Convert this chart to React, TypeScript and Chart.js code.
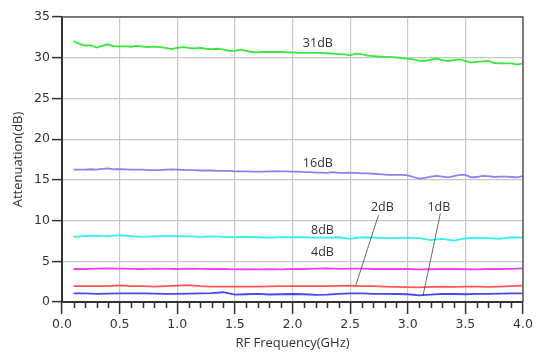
import { useEffect, useRef } from "react";
import { Chart, registerables } from "chart.js";

Chart.register(...registerables);

// Frequency grid (GHz)
const freqFine = [
  0.1, 0.15, 0.2, 0.25, 0.3, 0.35, 0.4, 0.45, 0.5, 0.55, 0.6, 0.65, 0.7, 0.75, 0.8, 0.85, 0.9, 0.95,
  1.0, 1.05, 1.1, 1.15, 1.2, 1.25, 1.3, 1.35, 1.4, 1.45, 1.5, 1.55, 1.6, 1.65, 1.7, 1.75, 1.8, 1.85, 1.9, 1.95,
  2.0, 2.05, 2.1, 2.15, 2.2, 2.25, 2.3, 2.35, 2.4, 2.45, 2.5, 2.55, 2.6, 2.65, 2.7, 2.75, 2.8, 2.85, 2.9, 2.95,
  3.0, 3.05, 3.1, 3.15, 3.2, 3.25, 3.3, 3.35, 3.4, 3.45, 3.5, 3.55, 3.6, 3.65, 3.7, 3.75, 3.8, 3.85, 3.9, 3.95,
  4.0,
];
const freqCoarse = [
  0.1, 0.2, 0.3, 0.4, 0.5, 0.6, 0.7, 0.8, 0.9, 1.0, 1.1, 1.2, 1.3, 1.4, 1.5, 1.6, 1.7, 1.8, 1.9, 2.0,
  2.1, 2.2, 2.3, 2.4, 2.5, 2.6, 2.7, 2.8, 2.9, 3.0, 3.1, 3.2, 3.3, 3.4, 3.5, 3.6, 3.7, 3.8, 3.9, 4.0,
];

// Attenuation values (dB)
const att31 = [
  32.05, 31.7, 31.5, 31.5, 31.25, 31.45, 31.65, 31.4, 31.4, 31.4, 31.35, 31.45, 31.35, 31.3, 31.35, 31.3, 31.2, 31.05,
  31.2, 31.3, 31.2, 31.15, 31.2, 31.1, 31.05, 31.1, 31.0, 30.85, 30.85, 31.0, 30.85, 30.7, 30.65, 30.7, 30.7, 30.7, 30.7, 30.65,
  30.65, 30.6, 30.6, 30.6, 30.6, 30.6, 30.55, 30.5, 30.45, 30.4, 30.3, 30.5, 30.45, 30.25, 30.2, 30.15, 30.1, 30.1, 30.05, 29.95,
  29.9, 29.8, 29.6, 29.6, 29.75, 29.9, 29.7, 29.6, 29.7, 29.8, 29.6, 29.4, 29.5, 29.55, 29.6, 29.35, 29.3, 29.3, 29.3, 29.15,
  29.3,
];
const att16 = [
  16.25, 16.25, 16.25, 16.3, 16.25, 16.35, 16.4, 16.3, 16.3, 16.28, 16.25, 16.25, 16.25, 16.2, 16.2, 16.2, 16.25, 16.28,
  16.25, 16.22, 16.2, 16.2, 16.15, 16.15, 16.15, 16.1, 16.1, 16.1, 16.05, 16.05, 16.05, 16.0, 16.0, 16.0, 16.05, 16.07, 16.05, 16.05,
  16.0, 16.0, 15.95, 15.95, 15.9, 15.9, 15.85, 15.95, 15.85, 15.85, 15.9, 15.85, 15.8, 15.8, 15.75, 15.7, 15.65, 15.6, 15.6, 15.6,
  15.55, 15.35, 15.15, 15.25, 15.4, 15.5, 15.4, 15.3, 15.45, 15.6, 15.6, 15.3, 15.35, 15.5, 15.45, 15.35, 15.4, 15.4, 15.35, 15.3,
  15.45,
];
const att8 = [
  8.0, 8.1, 8.15, 8.05, 8.2, 8.1, 8.0, 8.05, 8.1, 8.1, 8.05, 8.0, 8.05, 8.0, 7.95, 8.0, 7.95, 7.9, 7.95, 7.95,
  7.95, 7.9, 7.9, 7.95, 7.75, 7.95, 7.9, 7.85, 7.85, 7.9, 7.85, 7.6, 7.75, 7.55, 7.8, 7.9, 7.85, 7.75, 7.95, 7.9,
];
const att4 = [
  4.05, 4.05, 4.1, 4.12, 4.1, 4.08, 4.05, 4.1, 4.08, 4.05, 4.1, 4.08, 4.05, 4.05, 4.0, 4.02, 4.0, 4.02, 4.0, 4.05,
  4.05, 4.1, 4.12, 4.08, 4.1, 4.1, 4.05, 4.05, 4.08, 4.05, 4.0, 4.02, 4.05, 4.05, 4.02, 4.0, 4.05, 4.05, 4.08, 4.12,
];
const att2 = [
  1.95, 1.95, 1.95, 1.95, 2.05, 1.95, 1.95, 1.9, 1.95, 2.0, 2.08, 1.95, 1.9, 1.9, 1.88, 1.9, 1.9, 1.92, 1.95, 1.95,
  1.95, 1.95, 1.95, 1.98, 2.0, 1.95, 1.95, 1.9, 1.85, 1.82, 1.8, 1.85, 1.88, 1.85, 1.9, 1.9, 1.85, 1.9, 1.95, 2.0,
];
const att1 = [
  1.07, 1.05, 1.0, 1.02, 1.05, 1.05, 1.05, 1.02, 1.0, 1.0, 1.02, 1.05, 1.1, 1.2, 0.9, 0.95, 1.0, 0.92, 0.95, 0.98,
  0.95, 0.88, 0.9, 1.0, 1.05, 1.05, 1.0, 1.0, 0.98, 0.95, 0.82, 0.9, 1.0, 0.98, 0.95, 1.0, 1.0, 1.02, 1.05, 1.07,
];

// Curve annotations (text anchored in data units)
const curveLabels = [
  { text: "31dB", x: 2.22, y: 31.8 },
  { text: "16dB", x: 2.22, y: 17.05 },
  { text: "8dB", x: 2.26, y: 8.83 },
  { text: "4dB", x: 2.26, y: 6.13 },
  { text: "2dB", x: 2.78, y: 11.66 },
  { text: "1dB", x: 3.27, y: 11.66 },
];
const leaderLines = [
  { x1: 2.746, y1: 10.67, x2: 2.55, y2: 2.09 },
  { x1: 3.283, y1: 10.88, x2: 3.132, y2: 0.74 },
];

const toPoints = (xs: number[], ys: number[]) => ys.map((v, i) => ({ x: xs[i], y: v }));

const decorPlugin = {
  id: "decor",
  afterDraw(chart: any) {
    const { ctx, chartArea } = chart;
    const { left, right, top, bottom } = chartArea;
    const xs = chart.scales.x;
    const ys = chart.scales.y;
    ctx.save();
    // top & right frame
    ctx.strokeStyle = "#5a5a5a";
    ctx.lineWidth = 1.5;
    ctx.beginPath();
    ctx.moveTo(left, top);
    ctx.lineTo(right, top);
    ctx.lineTo(right, bottom);
    ctx.stroke();
    // minor x ticks
    ctx.strokeStyle = "#333";
    ctx.lineWidth = 1.5;
    ctx.beginPath();
    for (let i = 1; i < 40; i++) {
      if (i % 5 === 0) continue;
      const px = Math.round(xs.getPixelForValue(i / 10)) + 0.5;
      ctx.moveTo(px, bottom);
      ctx.lineTo(px, bottom + 6);
    }
    ctx.stroke();
    // leader lines
    ctx.strokeStyle = "#444";
    ctx.lineWidth = 0.8;
    ctx.beginPath();
    for (const l of leaderLines) {
      ctx.moveTo(xs.getPixelForValue(l.x1), ys.getPixelForValue(l.y1));
      ctx.lineTo(xs.getPixelForValue(l.x2), ys.getPixelForValue(l.y2));
    }
    ctx.stroke();
    // labels
    ctx.fillStyle = "#333";
    ctx.font = '12.5px "Open Sans"';
    ctx.textAlign = "center";
    ctx.textBaseline = "middle";
    for (const lb of curveLabels) {
      ctx.fillText(lb.text, xs.getPixelForValue(lb.x), ys.getPixelForValue(lb.y));
    }
    ctx.restore();
  },
};

export default function App() {
  const ref = useRef<HTMLCanvasElement | null>(null);

  useEffect(() => {
    document.body.style.margin = "0";
    const canvas = ref.current;
    if (!canvas) return;
    const lw = 1.8;
    const chart = new Chart(canvas, {
      type: "line",
      data: {
        datasets: [
          { label: "31dB", data: toPoints(freqFine, att31), borderColor: "#3ae83a" },
          { label: "16dB", data: toPoints(freqFine, att16), borderColor: "#8e80f2" },
          { label: "8dB", data: toPoints(freqCoarse, att8), borderColor: "#33f0f0" },
          { label: "4dB", data: toPoints(freqCoarse, att4), borderColor: "#f040f0" },
          { label: "2dB", data: toPoints(freqCoarse, att2), borderColor: "#ff5555" },
          { label: "1dB", data: toPoints(freqCoarse, att1), borderColor: "#4848f0" },
        ].map((d) => ({ ...d, borderWidth: lw, pointRadius: 0, fill: false, tension: 0 })),
      },
      options: {
        animation: false,
        responsive: false,
        devicePixelRatio: 1,
        layout: { padding: { top: 17, right: 14, left: 0, bottom: 0 } },
        plugins: { legend: { display: false }, tooltip: { enabled: false } },
        scales: {
          x: {
            type: "linear",
            min: 0,
            max: 4,
            afterFit: (s: any) => {
              s.height = 51;
            },
            ticks: {
              stepSize: 0.5,
              padding: 3,
              color: "#333",
              font: { family: "DejaVu Sans", size: 12.5 },
              callback: (v: any) => Number(v).toFixed(1),
            },
            grid: { color: "#c8c8c8", lineWidth: 1.2, tickLength: 12, tickColor: "#333", tickWidth: 1.5 },
            border: { color: "#333", width: 2 },
            title: {
              display: true,
              text: "RF Frequency(GHz)",
              color: "#333",
              font: { family: "Open Sans", size: 13 },
              padding: { top: 0, bottom: 2 },
            },
          },
          y: {
            min: 0,
            max: 35,
            afterFit: (s: any) => {
              s.width = 62;
            },
            ticks: {
              stepSize: 5,
              padding: 2,
              color: "#333",
              font: { family: "DejaVu Sans", size: 12.5 },
            },
            grid: { color: "#c8c8c8", lineWidth: 1.2, tickLength: 10, tickColor: "#333", tickWidth: 1.5 },
            border: { color: "#333", width: 2 },
            title: {
              display: true,
              text: "Attenuation(dB)",
              color: "#333",
              font: { family: "Open Sans", size: 13 },
              padding: { top: 10, bottom: 0 },
            },
          },
        },
      },
      plugins: [decorPlugin],
    });
    return () => chart.destroy();
  }, []);

  return <canvas ref={ref} width={537} height={353} style={{ display: "block" }} />;
}
